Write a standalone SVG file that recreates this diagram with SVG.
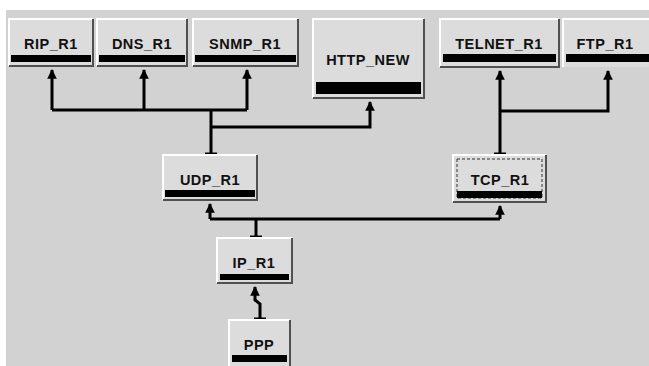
<svg xmlns="http://www.w3.org/2000/svg" width="649" height="366" viewBox="0 0 649 366">
<defs>
<style>
.box{fill:#dcdcdc}
.hl{fill:none;stroke:#ffffff;stroke-width:2}
.sh{fill:none;stroke:#505050;stroke-width:2}
.bar{fill:#000}
.lbl{font-family:"Liberation Sans",Arial,sans-serif;font-weight:bold;font-size:14.5px;letter-spacing:0.5px;fill:#111;text-anchor:middle}
.ln{fill:none;stroke:#000;stroke-width:3}
.tee{stroke:#000;stroke-width:3}
</style>
<marker id="ah" viewBox="0 0 10 10" refX="9" refY="5" markerWidth="3.2" markerHeight="3.2" orient="auto" markerUnits="strokeWidth">
<path d="M0,0 L10,5 L0,10 Z" fill="#000"/>
</marker>
</defs>
<rect x="0" y="0" width="649" height="366" fill="#ffffff"/>
<rect x="6" y="10" width="643" height="356" fill="#d2d2d2"/>

<g id="connectors">
<path class="ln" d="M211,155 V110 M52,110 H247" />
<path class="ln" d="M52,110 V70" marker-end="url(#ah)"/>
<path class="ln" d="M144,110 V70" marker-end="url(#ah)"/>
<path class="ln" d="M247,110 V70" marker-end="url(#ah)"/>
<path class="ln" d="M211,127 H370 V102" marker-end="url(#ah)"/>
<line class="tee" x1="205" y1="154" x2="217" y2="154"/>
<path class="ln" d="M500,155 V71" marker-end="url(#ah)"/>
<path class="ln" d="M500,111 H608 V71" marker-end="url(#ah)"/>
<line class="tee" x1="494" y1="154" x2="506" y2="154"/>
<path class="ln" d="M256,238 V219" />
<path class="ln" d="M210,219 H500" />
<path class="ln" d="M210,219 V204" marker-end="url(#ah)"/>
<path class="ln" d="M500,219 V206" marker-end="url(#ah)"/>
<line class="tee" x1="250" y1="237" x2="262" y2="237"/>
<path class="ln" d="M260,319 V304 L255,300 V287" marker-end="url(#ah)"/>
<line class="tee" x1="254" y1="319" x2="266" y2="319"/>
</g>

<g id="RIP_R1">
<rect class="box" x="9" y="19" width="84" height="47"/>
<polyline class="hl" points="9,66 9,19 93,19"/>
<polyline class="sh" points="93,19 93,66 9,66"/>
<rect class="bar" x="11" y="55" width="80" height="7"/>
<text class="lbl" x="51" y="49">RIP_R1</text>
</g>
<g id="DNS_R1">
<rect class="box" x="97" y="19" width="90" height="47"/>
<polyline class="hl" points="97,66 97,19 187,19"/>
<polyline class="sh" points="187,19 187,66 97,66"/>
<rect class="bar" x="99" y="55" width="86" height="7"/>
<text class="lbl" x="142" y="49">DNS_R1</text>
</g>
<g id="SNMP_R1">
<rect class="box" x="193" y="19" width="105" height="47"/>
<polyline class="hl" points="193,66 193,19 298,19"/>
<polyline class="sh" points="298,19 298,66 193,66"/>
<rect class="bar" x="195" y="55" width="101" height="7"/>
<text class="lbl" x="245" y="49">SNMP_R1</text>
</g>
<g id="HTTP_NEW">
<rect class="box" x="313" y="19" width="111" height="79"/>
<polyline class="hl" points="313,98 313,19 424,19"/>
<polyline class="sh" points="424,19 424,98 313,98"/>
<rect class="bar" x="316" y="82" width="105" height="12"/>
<text class="lbl" x="368" y="65">HTTP_NEW</text>
</g>
<g id="TELNET_R1">
<rect class="box" x="440" y="19" width="119" height="48"/>
<polyline class="hl" points="440,67 440,19 559,19"/>
<polyline class="sh" points="559,19 559,67 440,67"/>
<rect class="bar" x="443" y="54" width="113" height="8"/>
<text class="lbl" x="499" y="49">TELNET_R1</text>
</g>
<g id="FTP_R1">
<rect class="box" x="563" y="19" width="88" height="48"/>
<polyline class="hl" points="563,67 563,19 651,19"/>
<rect class="bar" x="566" y="54" width="83" height="8"/>
<text class="lbl" x="605" y="49">FTP_R1</text>
</g>
<g id="UDP_R1">
<rect class="box" x="163" y="155" width="94" height="45"/>
<polyline class="hl" points="163,200 163,155 257,155"/>
<polyline class="sh" points="257,155 257,200 163,200"/>
<rect class="bar" x="165" y="190" width="90" height="7"/>
<text class="lbl" x="210" y="185">UDP_R1</text>
</g>
<g id="TCP_R1">
<rect class="box" x="453" y="155" width="93" height="47"/>
<polyline class="hl" points="453,202 453,155 546,155"/>
<polyline class="sh" points="546,155 546,202 453,202"/>
<rect x="457" y="159" width="85" height="39" fill="none" stroke="#333" stroke-width="1" stroke-dasharray="3,2"/>
<rect class="bar" x="457" y="191" width="85" height="7"/>
<text class="lbl" x="500" y="185">TCP_R1</text>
</g>
<g id="IP_R1">
<rect class="box" x="217" y="238" width="75" height="45"/>
<polyline class="hl" points="217,283 217,238 292,238"/>
<polyline class="sh" points="292,238 292,283 217,283"/>
<rect class="bar" x="220" y="274" width="69" height="6"/>
<text class="lbl" x="254" y="268">IP_R1</text>
</g>
<g id="PPP">
<rect class="box" x="229" y="320" width="61" height="50"/>
<polyline class="hl" points="229,366 229,320 290,320"/>
<polyline class="sh" points="290,320 290,366"/>
<rect class="bar" x="232" y="355" width="55" height="7"/>
<text class="lbl" x="259" y="350">PPP</text>
</g>
</svg>
